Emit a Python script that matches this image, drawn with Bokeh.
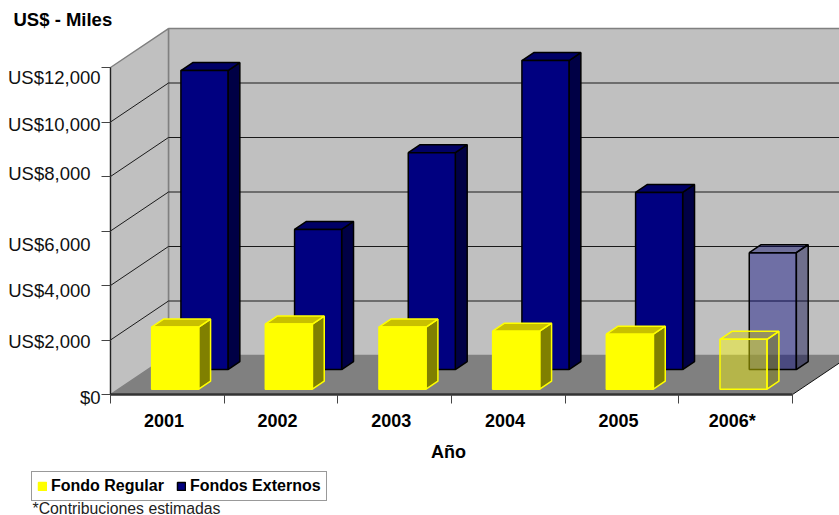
from bokeh.plotting import figure
from bokeh.models import ColumnDataSource, FixedTicker, Label, Legend, LegendItem, Range1d
from bokeh.embed import file_html
from bokeh.resources import INLINE

# ---- data -------------------------------------------------------------
years = ["2001", "2002", "2003", "2004", "2005", "2006*"]
fondo_regular = [2280, 2390, 2280, 2130, 2020, 1830]
fondos_externos = [10970, 5140, 7960, 11340, 6500, 4290]
bar_alpha = [1, 1, 1, 1, 1, 0.42]
value_ticks = [0, 2000, 4000, 6000, 8000, 10000, 12000]
value_labels = ["$0", "US$2,000", "US$4,000", "US$6,000", "US$8,000", "US$10,000", "US$12,000"]

# ---- layout of the hand-placed labels and of the fake 3D depth ---------
label_dx = [-10, -20, -20, -20, -20, -10, -10]
label_dy = [3, 1.5, 5, 13.5, -3, 2.5, 9.5]
DEPTH_X = 0.51      # category units for the full floor depth
DEPTH_Y = 1431      # value units for the full floor depth
BAR_W = 0.414
LABEL_SHIFT = -0.03  # year labels sit a little left of the category centre
FONT = "Liberation Sans"
PX_X = 113.67       # pixels per category
PX_Y = 327 / 12000  # pixels per value
W, H = 839, 515
X0, Y0 = 110, 394   # where the origin of the axes lies in the figure


def P(cat, val, z):
    return cat + z * DEPTH_X, val + z * DEPTH_Y


def sx(px):
    return (px - X0) / PX_X


def sy(py):
    return (Y0 - py) / PX_Y


p = figure(width=W, height=H, output_backend="svg", toolbar_location=None,
           x_range=Range1d(sx(0), sx(W)), y_range=Range1d(sy(H), sy(0)),
           min_border=0, outline_line_color=None,
           background_fill_color="white", border_fill_color="white")
p.grid.visible = False

# ---- walls and floor ---------------------------------------------------
top_v, n = value_ticks[-1], len(years)
bx0, by0 = P(0, 0, 1)
bx1, by1 = P(n, 0, 1)
_, byt = P(0, top_v, 1)
p.patch([bx0, bx1, bx1, bx0], [by0, by1, byt, byt], fill_color="#C0C0C0", line_color="#808080", line_width=1.5)
p.patch([0, bx0, bx0, 0], [0, by0, byt, top_v], fill_color="#C0C0C0", line_color="#808080", line_width=1.5)
p.patch([0, n, bx1, bx0], [0, 0, by1, by0], fill_color="#808080", line_color=None)
p.line([n, bx1], [0, by1], line_color="#111111", line_width=1)

grid_v = value_ticks[1:-1]
p.multi_line([[0, bx0, bx1] for _ in grid_v],
             [[v, P(0, v, 1)[1], P(0, v, 1)[1]] for v in grid_v],
             line_color="#1a1a1a", line_width=1)


# ---- bars ---------------------------------------------------------------
def bars(values, z0, z1, front, top, side, edge):
    lx, rx, bot, tp = [], [], [], []
    fx, fy, tx, ty = [], [], [], []
    for i, v in enumerate(values):
        c = i + 0.5
        l, b = P(c - BAR_W / 2, 0, z0)
        r, t = P(c + BAR_W / 2, v, z0)
        lx.append(l); rx.append(r); bot.append(b); tp.append(t)
        r2, b2 = P(c + BAR_W / 2, 0, z1)
        l2, t2 = P(c - BAR_W / 2, v, z1)
        fx.append([r, r2, r2, r]); fy.append([b, b2, t2, t])
        tx.append([l, r, r2, l2]); ty.append([t, t, t2, t2])
    p.patches("x", "y", source=ColumnDataSource(dict(x=fx, y=fy, a=bar_alpha)),
              fill_color=side, fill_alpha="a", line_color=edge, line_width=1.5)
    p.patches("x", "y", source=ColumnDataSource(dict(x=tx, y=ty, a=bar_alpha)),
              fill_color=top, fill_alpha="a", line_color=edge, line_width=1.5)
    return p.quad(left="l", right="r", bottom="b", top="t",
                  source=ColumnDataSource(dict(l=lx, r=rx, b=bot, t=tp, a=bar_alpha)),
                  fill_color=front, fill_alpha="a", line_color=edge, line_width=1.5)


blue = bars(fondos_externos, 0.64, 0.845, "#000080", "#000066", "#000045", "#000000")
yellow = bars(fondo_regular, 0.135, 0.34, "#FFFF00", "#C8C000", "#808000", "#FFFF00")

# ---- axes ---------------------------------------------------------------
label_ticks = [i + 0.5 + LABEL_SHIFT for i in range(n)]
xa = p.xaxis[0]
xa.fixed_location = 0
xa.ticker = FixedTicker(ticks=label_ticks, minor_ticks=list(range(n + 1)))
xa.major_label_overrides = dict(zip(label_ticks, years))
xa.bounds = (0, n)
xa.major_tick_out = 0
xa.major_tick_in = 0
xa.minor_tick_out = 9
xa.minor_tick_in = 0
xa.minor_tick_line_color = "#444444"
xa.axis_line_color = "#333333"
xa.axis_line_width = 2.5
xa.major_label_text_font = FONT
xa.major_label_text_font_style = "bold"
xa.major_label_text_font_size = "18px"
xa.major_label_text_color = "#000000"
xa.major_label_standoff = 7

ya = p.yaxis[0]
ya.fixed_location = 0
ya.ticker = FixedTicker(ticks=value_ticks, minor_ticks=[])
ya.major_label_overrides = {v: "" for v in value_ticks}
ya.bounds = (0, top_v)
ya.major_tick_out = 9
ya.major_tick_in = 0
ya.major_tick_line_color = "#444444"
ya.axis_line_color = "#222222"
ya.axis_line_width = 1.2

for v, txt, dx, dy in zip(value_ticks, value_labels, label_dx, label_dy):
    p.add_layout(Label(x=0, y=v, text=txt, x_offset=dx, y_offset=-dy, text_align="right",
                       text_baseline="middle", text_font=FONT, text_font_size="18.5px",
                       text_color="#111111"))

p.add_layout(Label(x=sx(13), y=sy(19), text="US$ - Miles", text_align="left", text_baseline="middle",
                   text_font=FONT, text_font_style="bold", text_font_size="18.5px", text_color="#000000"))
p.add_layout(Label(x=sx(448), y=sy(451), text="Año", text_align="center", text_baseline="middle",
                   text_font=FONT, text_font_style="bold", text_font_size="18px", text_color="#000000"))
p.add_layout(Label(x=sx(32), y=sy(507.5), text="*Contribuciones estimadas", text_align="left",
                   text_baseline="middle", text_font=FONT, text_font_size="15.8px", text_color="#222222"))

legend = Legend(items=[LegendItem(label="Fondo Regular", renderers=[yellow], index=0),
                       LegendItem(label="Fondos Externos", renderers=[blue], index=0)],
                orientation="horizontal", location=(31, H - 501),
                glyph_width=10, glyph_height=10, label_standoff=4, spacing=12,
                padding=5, margin=0, label_text_font=FONT, label_text_font_style="bold",
                label_text_font_size="16px", label_text_color="#000000",
                border_line_color="#333333", border_line_width=1.5,
                background_fill_color="white", background_fill_alpha=1)
p.add_layout(legend)

open("out.html", "w").write(file_html(p, INLINE))
